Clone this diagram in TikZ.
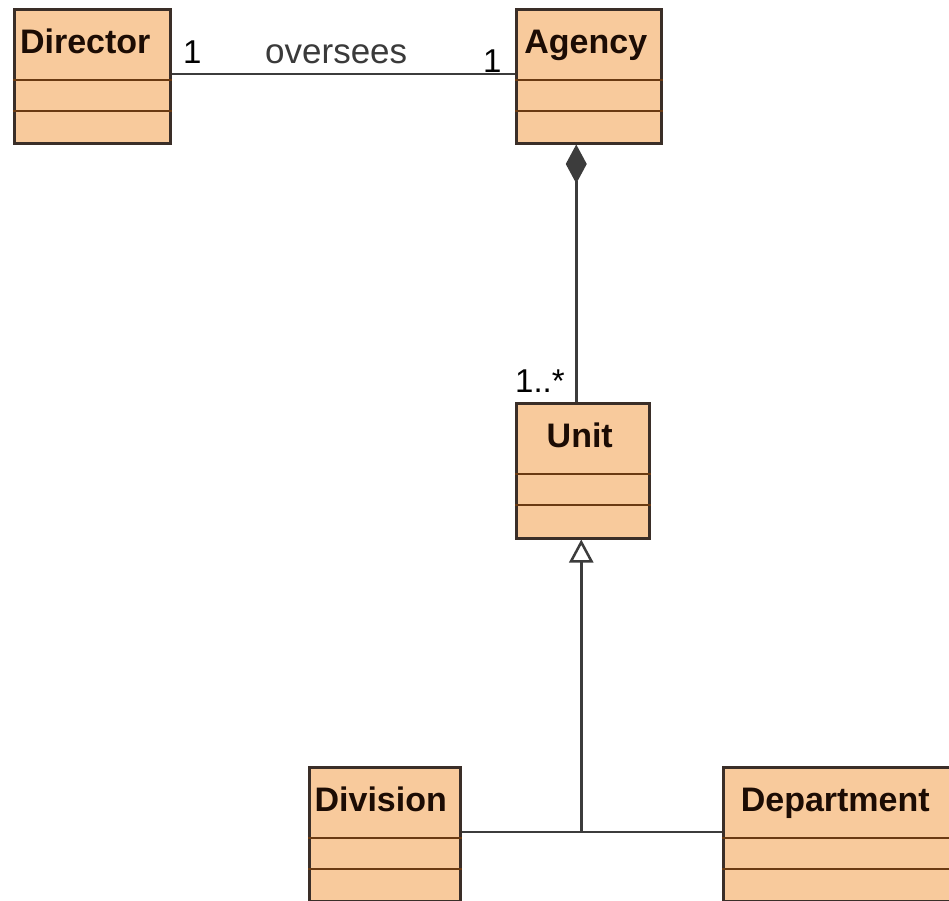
\documentclass[tikz,border=0pt]{standalone}
\usepackage{fontspec}
\setmainfont{Liberation Sans}
\usetikzlibrary{arrows.meta,calc}
\definecolor{classfill}{HTML}{F8CA9C}
\definecolor{classedge}{HTML}{3A2E28}
\definecolor{divline}{HTML}{6A3A12}
\definecolor{wire}{HTML}{3C3C3C}
\definecolor{titleink}{HTML}{1C0C04}
\definecolor{labelink}{HTML}{3A3A3A}
\tikzset{
  classbox/.style={draw=classedge, fill=classfill, line width=2.5pt, inner sep=0pt, anchor=north west},
  classname/.style={font=\fontsize{34}{40}\selectfont\bfseries, text=titleink, anchor=base, inner sep=0pt},
  divider/.style={draw=divline, line width=2.5pt},
  wireline/.style={draw=wire, line width=2.5pt},
  mult/.style={font=\fontsize{33}{40}\selectfont, text=black, anchor=base west, inner sep=0pt},
  rolename/.style={font=\fontsize{35}{40}\selectfont, text=labelink, anchor=base west, inner sep=0pt},
}
% UML class: name, x, y (top left), width, height, title x offset, title
\newcommand\umlclass[7]{%
  \node[classbox, minimum width=#4pt, minimum height=#5pt] (#1) at (#2,#3) {};
  \draw[divider] ([yshift=-72pt]#1.north west) -- ([yshift=-72pt]#1.north east);
  \draw[divider] ([yshift=-103pt]#1.north west) -- ([yshift=-103pt]#1.north east);
  \node[classname] (#1-title) at ([xshift=#6pt, yshift=-45pt]#1.north) {#7};
}
\begin{document}
\begin{tikzpicture}[x=1pt,y=-1pt]
\useasboundingbox (0,0) rectangle (949,900);
\fill[white] (0,0) rectangle (949,900);
\begin{scope}
\clip (0,0) rectangle (949,900);

\umlclass{director}{13}{8}{156}{134}{-7}{Director}
\umlclass{agency}{515}{8}{145}{134}{-3}{Agency}
\umlclass{unit}{515}{402}{133}{135}{-3}{Unit}
\umlclass{division}{308}{766}{151}{134}{-4}{Division}
\umlclass{department}{722}{766}{228}{134}{-2}{Department}

% association Director -- Agency
\draw[wireline] ([yshift=-66pt]director.north east) -- ([yshift=-66pt]agency.north west);
\node[mult] (dirmult) at (183,63) {1};
\node[rolename] (assocname) at (265,63) {oversees};
\node[mult] (agmult) at (483,72) {1};

% composition Agency <>-- Unit
\draw[wireline, {Diamond[length=39pt,width=21pt]}-]
  ([xshift=-12.5pt]agency.south) -- ([xshift=-12.5pt]agency.south |- unit.north);
\node[mult] (unitmult) at (515,392) {1..*};

% generalization Division, Department --|> Unit
\path ([yshift=-66pt]division.north east) coordinate (divport);
\path ([yshift=-66pt]department.north west) coordinate (depport);
\path ([xshift=-1.5pt]unit.south) coordinate (unitport);
\coordinate (join) at (unitport |- divport);
\draw[wireline] (divport) -- (depport);
\draw[wireline, -{Triangle[open, length=23pt, width=24pt, fill=white]}] (join) -- (unitport);
\end{scope}
\end{tikzpicture}
\end{document}
